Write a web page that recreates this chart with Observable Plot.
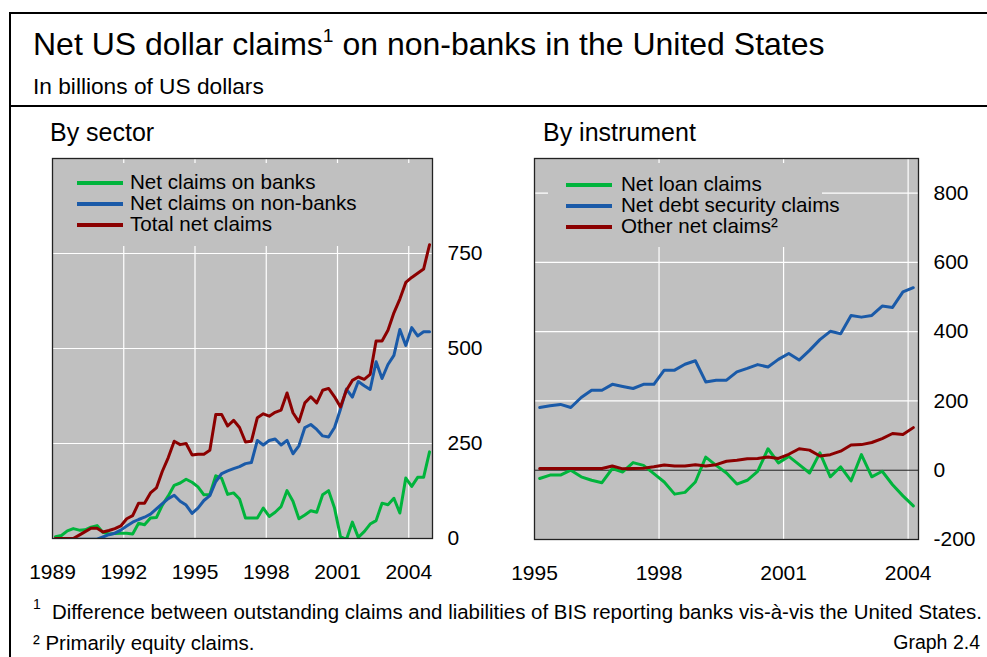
<!DOCTYPE html>
<html><head><meta charset="utf-8">
<script src="https://cdn.jsdelivr.net/npm/d3@7"></script>
<script src="https://cdn.jsdelivr.net/npm/@observablehq/plot@0.6"></script>
<style>
body{margin:0;background:#fff;font-family:"Liberation Sans",Arial,Helvetica,sans-serif;color:#000}
#page{position:relative;width:987px;height:657px;overflow:hidden;background:#fff}
.abs{position:absolute;white-space:nowrap;line-height:1}
.rule{position:absolute;background:#000}
sup{font-size:60%;vertical-align:0;position:relative;top:-0.7em}
</style></head><body><div id="page">
<div class="rule" style="left:10px;top:12px;width:977px;height:2px"></div>
<div class="rule" style="left:10px;top:105px;width:977px;height:2px"></div>
<div class="rule" style="left:9px;top:12px;width:2px;height:645px"></div>
<div class="abs" style="left:33px;top:28px;font-size:32px">Net US dollar claims<sup>1</sup> on non-banks in the United States</div>
<div class="abs" style="left:33px;top:75px;font-size:22.7px">In billions of US dollars</div>
<div class="abs" style="left:50px;top:120px;font-size:25px">By sector</div>
<div class="abs" style="left:543px;top:120px;font-size:25px">By instrument</div>
<div id="left" class="abs" style="left:0;top:150px;width:520px;height:440px"></div>
<div id="right" class="abs" style="left:500px;top:150px;width:487px;height:440px"></div>
<div id="legL" class="abs" style="left:56px;top:163px;width:364px;height:83px;background:#c0c0c0"></div>
<div id="legR" class="abs" style="left:548px;top:163px;width:274px;height:84px;background:#c0c0c0"></div>
<div class="abs" style="left:33px;top:602px;font-size:20px"><sup style="font-size:70%">1</sup></div>
<div class="abs" style="left:52px;top:602px;font-size:20.45px">Difference between outstanding claims and liabilities of BIS reporting banks vis-à-vis the United States.</div>
<div class="abs" style="left:33px;top:633px;font-size:20.45px">² Primarily equity claims.</div>
<div class="abs" style="right:7px;top:633px;font-size:19.5px">Graph 2.4</div>
</div>
<script>
// ---------- data ----------
const sectorStart = 1989, sectorCount = 64;      // quarterly, 1989 Q1 – 2004 Q4
const instrStart = 1995, instrCount = 37;        // quarterly, 1995 Q1 – 2004 Q1

const sectorLabels = ["Net claims on banks", "Net claims on non-banks", "Total net claims"];
const instrLabels = ["Net loan claims", "Net debt security claims", "Other net claims²"];

const sectorBanks = [5,8,20,26,22,23,30,34,16,12,13,14,14,12,40,36,54,55,88,112,140,146,156,148,136,115,116,165,158,116,120,104,54,54,54,80,58,69,84,126,98,52,62,73,69,115,126,80,5,-3,43,3,18,38,47,93,89,106,67,159,137,161,161,228];
const sectorNonBanks = [-2,-2,-2,-2,-2,-2,-2,-2,4,10,14,22,33,43,50,56,64,78,92,105,114,98,88,66,80,100,113,150,171,178,184,189,197,200,258,246,258,262,246,258,223,244,292,300,287,270,267,292,340,393,372,413,402,392,465,421,458,482,550,508,555,533,544,544];
const sectorTotal = [0,0,0,0,9,18,27,27,17,21,26,33,52,60,93,93,120,133,177,213,256,247,250,220,222,222,232,326,326,296,311,292,254,256,318,328,322,332,338,383,331,307,357,373,357,390,395,373,346,390,416,425,419,432,520,520,548,594,630,674,687,698,709,773];

const instrLoans = [-24,-14,-14,0,-19,-29,-36,5,-5,22,14,-10,-34,-69,-64,-34,38,14,-8,-40,-29,-3,62,21,40,16,-8,50,-19,10,-31,45,-19,-3,-42,-74,-103];
const instrDebt = [181,186,190,181,210,231,231,248,242,236,248,248,289,289,306,316,255,260,260,284,294,305,298,320,337,318,346,377,401,394,447,442,447,474,470,515,527];
const instrOther = [5,5,5,5,5,5,5,12,4,5,6,10,15,12,12,16,12,16,26,29,33,34,38,34,46,62,58,41,45,55,73,74,80,91,106,103,123];

const leftXTicks = [1989,1992,1995,1998,2001,2004];
const leftYTicks = [0,250,500,750];
const rightXTicks = [1995,1998,2001,2004];
const rightYTicks = [-200,0,200,400,600,800];

const colors = ["#00b43c", "#1a5aa8", "#8b0000"];

// quarter mid-points as fractional years
const quarters = (start, n) => Array.from({length: n}, (_, i) => start + 0.125 + 0.25 * i);

function table(start, values) {
  const q = quarters(start, values.length);
  return values.map((v, i) => ({t: q[i], v}));
}

const font = '"Liberation Sans", Arial, Helvetica, sans-serif';

function panel(opts) {
  return Plot.plot({
    width: opts.width, height: opts.height,
    marginLeft: opts.ml, marginRight: opts.mr, marginTop: opts.mt, marginBottom: opts.mb,
    x: {domain: opts.xDomain, label: null},
    y: {domain: opts.yDomain, label: null},
    style: {fontFamily: font, fontSize: "21px", background: "transparent", overflow: "visible", color: "#000"},
    marks: [
      Plot.frame({fill: "#c0c0c0", stroke: null}),
      Plot.ruleX(opts.gridX, {stroke: "#fff", strokeWidth: 1.2}),
      Plot.ruleY(opts.gridY, {stroke: "#fff", strokeWidth: 1.2}),
      ...(opts.zero ? [Plot.ruleY([0], {stroke: "#222", strokeWidth: 1})] : []),
      ...opts.series.map((s, i) => Plot.line(table(opts.start, s), {x: "t", y: "v", stroke: colors[i], strokeWidth: 3, clip: true})),
      Plot.frame({stroke: "#222", strokeWidth: 1.3}),
      Plot.axisY(opts.yTicks, {anchor: "right", label: null, tickSize: 0, tickPadding: 15, tickFormat: d => String(d), fontSize: 21}),
      Plot.axisX(opts.xTicks, {anchor: "bottom", label: null, tickSize: 0, tickPadding: 26, tickFormat: d => String(d), fontSize: 21})
    ]
  });
}

document.getElementById("left").append(panel({
  width: 520, height: 440, ml: 52, mr: 88, mt: 8, mb: 52,
  xDomain: [1989, 2005], yDomain: [0, 1000],
  gridX: [1992, 1995, 1998, 2001, 2004], gridY: [250, 500, 750],
  xTicks: leftXTicks, yTicks: leftYTicks,
  start: sectorStart, series: [sectorBanks, sectorNonBanks, sectorTotal]
}));

document.getElementById("right").append(panel({
  width: 487, height: 440, ml: 34, mr: 69, mt: 8, mb: 51,
  xDomain: [1995, 2004.25], yDomain: [-200, 900],
  gridX: [1998, 2001, 2004], gridY: [200, 400, 600, 800], zero: true,
  xTicks: rightXTicks, yTicks: rightYTicks,
  start: instrStart, series: [instrLoans, instrDebt, instrOther]
}));

// legends (HTML, grey boxes hide the grid behind them)
function legend(el, labels, rowTops, swatchLeft, textLeft) {
  labels.forEach((lab, i) => {
    const sw = document.createElement("div");
    sw.style.cssText = `position:absolute;left:${swatchLeft}px;top:${rowTops[i] - 2}px;width:46px;height:4px;background:${colors[i]}`;
    el.append(sw);
    const tx = document.createElement("div");
    tx.className = "abs";
    tx.style.cssText += `left:${textLeft}px;top:${rowTops[i] - 10.2}px;font-size:20.6px;height:20.6px`;
    tx.textContent = lab;
    el.append(tx);
  });
}
legend(document.getElementById("legL"), sectorLabels, [19.5, 40.5, 61.5], 21, 74);
legend(document.getElementById("legR"), instrLabels, [21.5, 42.5, 63.5], 18, 73);
</script>
</body></html>
